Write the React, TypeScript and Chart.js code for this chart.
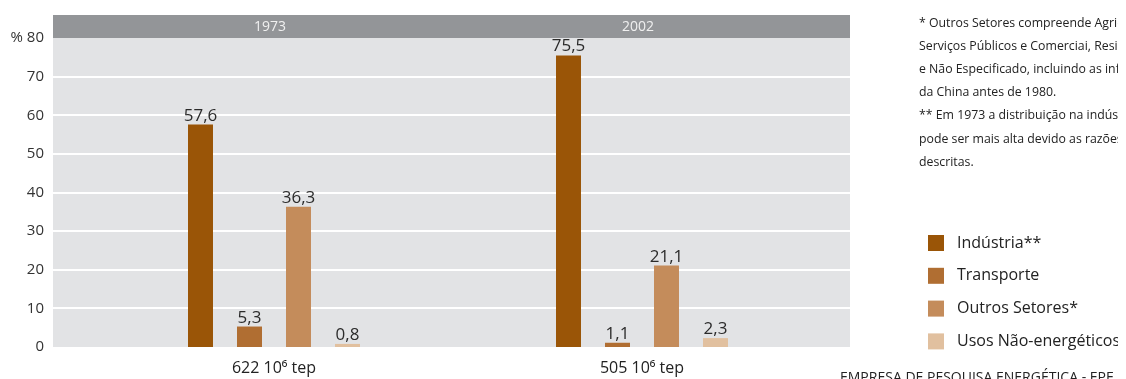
import React, { useEffect, useRef } from "react";
import { Chart, registerables } from "chart.js";

Chart.register(...registerables);

const categories = ["1973", "2002"];
const totals = ["622 10⁶ tep", "505 10⁶ tep"];
const seriesNames = ["Indústria**", "Transporte", "Outros Setores*", "Usos Não-energéticos"];
const industria = [57.6, 75.5];
const transporte = [5.3, 1.1];
const outros = [36.3, 21.1];
const usos = [0.8, 2.3];
const colors = ["#9a5507", "#b06e32", "#c48c5b", "#e1c09f"];
const yTicks = [0, 10, 20, 30, 40, 50, 60, 70, 80];
const notes = [
  "* Outros Setores compreende Agricultura,",
  "Serviços Públicos e Comerciai, Residencial",
  "e Não Especificado, incluindo as informações",
  "da China antes de 1980.",
  "** Em 1973 a distribuição na indústria",
  "pode ser mais alta devido as razões acima",
  "descritas.",
];
const footer = "EMPRESA DE PESQUISA ENERGÉTICA - EPE";

const FONT = "'Open Sans', 'DejaVu Sans', sans-serif";

const decor = {
  id: "decor",
  beforeDraw(chart: any) {
    const { ctx, chartArea } = chart;
    const y = chart.scales.y;
    const x = chart.scales.x;
    const left = chartArea.left - 37;
    const right = chartArea.right + 24;
    ctx.save();
    ctx.fillStyle = "#e2e3e5";
    ctx.fillRect(left, chartArea.top, right - left, chartArea.bottom - chartArea.top);
    ctx.fillStyle = "#939598";
    ctx.fillRect(left, chartArea.top - 23, right - left, 23);
    ctx.strokeStyle = "#ffffff";
    ctx.lineWidth = 2;
    yTicks.forEach((v) => {
      if (v === 0 || v === 80) return;
      const py = Math.round(y.getPixelForValue(v));
      ctx.beginPath();
      ctx.moveTo(left, py);
      ctx.lineTo(right, py);
      ctx.stroke();
    });
    ctx.fillStyle = "#f0f0f0";
    ctx.font = `14px ${FONT}`;
    ctx.textAlign = "center";
    ctx.textBaseline = "middle";
    categories.forEach((c, i) => {
      ctx.fillText(c, x.getPixelForValue(i) - 4, chartArea.top - 11);
    });
    // x labels
    ctx.fillStyle = "#222";
    ctx.font = `16px ${FONT}`;
    totals.forEach((t, i) => {
      ctx.fillText(t, x.getPixelForValue(i), chartArea.bottom + 21);
    });
    // y tick labels
    ctx.fillStyle = "#333";
    ctx.font = `15px ${FONT}`;
    ctx.textAlign = "right";
    yTicks.forEach((v) => {
      const py = y.getPixelForValue(v);
      ctx.fillText(v === 80 ? "% 80" : String(v), chartArea.left - 46, py);
    });
    ctx.restore();
  },
  afterDatasetsDraw(chart: any) {
    const { ctx } = chart;
    ctx.save();
    ctx.fillStyle = "#2b2b2b";
    ctx.font = `17px ${FONT}`;
    ctx.textAlign = "center";
    ctx.textBaseline = "alphabetic";
    chart.data.datasets.forEach((ds: any, di: number) => {
      const meta = chart.getDatasetMeta(di);
      meta.data.forEach((bar: any, i: number) => {
        const v = ds.data[i];
        ctx.fillText(String(v).replace(".", ","), bar.x, bar.y - 4);
      });
    });
    // notes
    ctx.textAlign = "left";
    ctx.fillStyle = "#222";
    ctx.font = `12.3px ${FONT}`;
    notes.forEach((n, i) => {
      ctx.textBaseline = "middle";
      ctx.fillText(n, 911, 15 + i * 23.2);
    });
    // legend
    ctx.font = `16px ${FONT}`;
    chart.data.datasets.forEach((ds: any, di: number) => {
      const cy = 235 + di * 32.8;
      ctx.fillStyle = ds.backgroundColor;
      ctx.fillRect(920, cy - 8, 16, 16);
      ctx.fillStyle = "#222";
      ctx.textBaseline = "middle";
      ctx.fillText(ds.label, 949, cy);
    });
    ctx.font = `14px ${FONT}`;
    ctx.textBaseline = "alphabetic";
    ctx.fillText(footer, 832, 374);
    ctx.restore();
  },
};

export default function App() {
  const ref = useRef<HTMLCanvasElement>(null);
  useEffect(() => {
    const values = [industria, transporte, outros, usos];
    const chart = new Chart(ref.current!, {
      type: "bar",
      data: {
        labels: totals,
        datasets: values.map((d, i) => ({
          label: seriesNames[i],
          data: d,
          backgroundColor: colors[i],
          categoryPercentage: 0.5326,
          barPercentage: 0.51,
        })),
      },
      options: {
        animation: false,
        responsive: false,
        layout: { padding: { top: 30, right: 300, bottom: 32, left: 0 } },
        plugins: { legend: { display: false }, tooltip: { enabled: false } },
        scales: {
          x: {
            grid: { display: false, drawTicks: false },
            border: { display: false },
            ticks: { display: false },
          },
          y: {
            min: 0,
            max: 80,
            afterFit(scale: any) {
              scale.width = 82;
            },
            afterBuildTicks(scale: any) {
              scale.ticks = yTicks.map((v) => ({ value: v }));
            },
            grid: { display: false, drawTicks: false },
            border: { display: false },
            ticks: { display: false },
          },
        },
      },
      plugins: [decor],
    });
    return () => chart.destroy();
  }, []);
  return <canvas ref={ref} width={1118} height={371} style={{ display: "block" }} />;
}
